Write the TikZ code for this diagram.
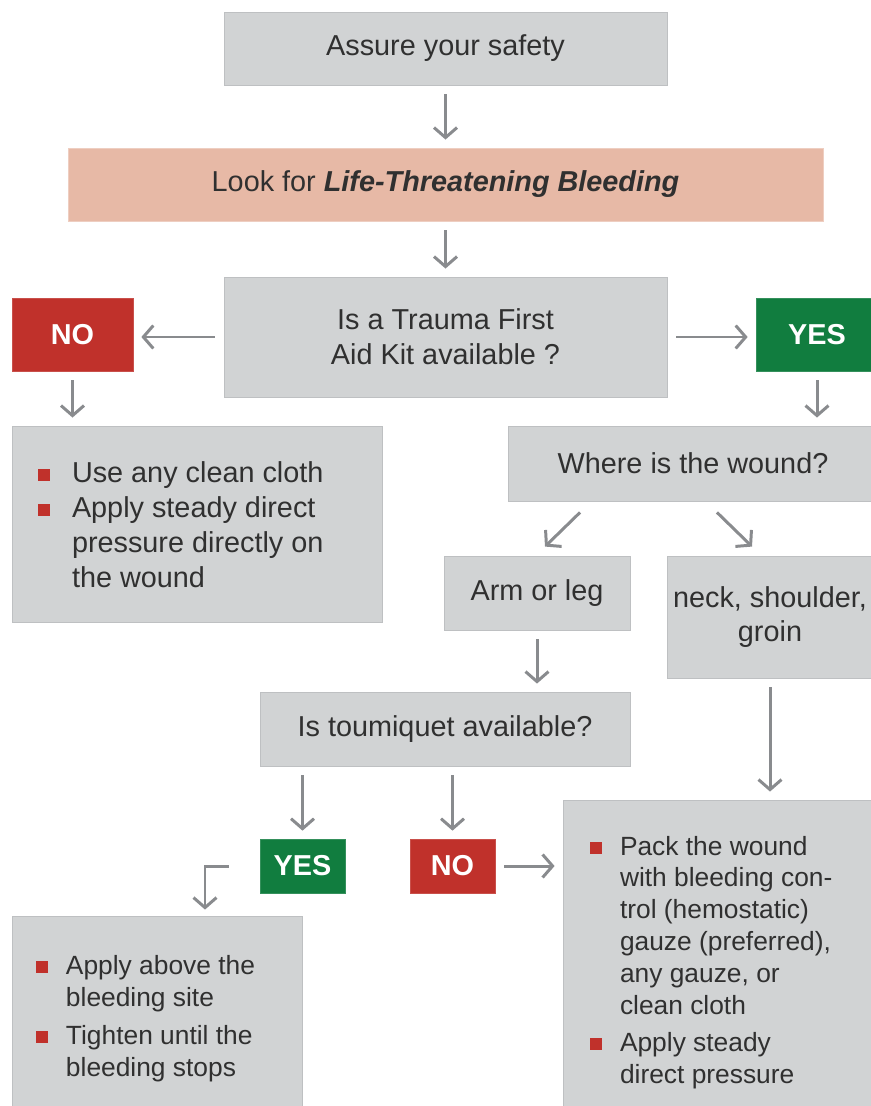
\documentclass[tikz,border=0pt]{standalone}
\usepackage{fontspec}
\setmainfont{Liberation Sans}
\usepackage{xcolor}
\usepackage{tikz}
\usetikzlibrary{arrows.meta, calc}
\definecolor{boxgray}{RGB}{209, 211, 212}
\definecolor{boxedge}{RGB}{190, 192, 194}
\definecolor{salmon}{RGB}{231, 185, 166}
\definecolor{nored}{RGB}{192, 49, 43}
\definecolor{yesgreen}{RGB}{17, 125, 63}
\definecolor{arrowgray}{RGB}{137, 139, 142}
\definecolor{textgray}{RGB}{48, 48, 48}

% red square bullet, one row of a list
\newcommand{\redsq}{\textcolor{nored}{\rule{0.24cm}{0.24cm}}}
\newcommand{\litem}[1]{\raisebox{0.03cm}{\redsq} & #1}

\tikzset{
  box/.style={fill=boxgray, draw=boxedge, line width=0.5pt, text=textgray,
    align=center, inner sep=0pt,
    font=\fontsize{16.4}{19.8}\selectfont},
  hilite/.style={box, fill=salmon, draw=salmon!70!white},
  nobox/.style={fill=nored, draw=nored!85!white, text=white, inner sep=0pt,
    font=\fontsize{16.4}{19.8}\selectfont\bfseries},
  yesbox/.style={nobox, fill=yesgreen, draw=yesgreen!85!white},
  listbox/.style={box, align=left, font=\fontsize{15}{18.1}\selectfont},
  flow/.style={draw=arrowgray, line width=1.7pt,
    -{Straight Barb[length=0.2cm, width=0.46cm]},
    shorten <=0.18cm, shorten >=0.16cm}
}

\begin{document}
\begin{tikzpicture}
  \useasboundingbox (0,0) rectangle (17.4,-22.12);

  % top of the chart
  \node[box, minimum width=8.86cm, minimum height=1.46cm] (safety) at (8.91,-0.97) {Assure your safety};
  \node[hilite, minimum width=15.1cm, minimum height=1.46cm] (look) at (8.91,-3.69)
    {Look for \textbf{\textit{Life-Threatening Bleeding}}};
  \node[box, minimum width=8.86cm, minimum height=2.4cm] (kit) at (8.91,-6.74)
    {Is a Trauma First\\Aid Kit available ?};
  \node[nobox, minimum width=2.42cm, minimum height=1.46cm] (no1) at (1.45,-6.69) {NO};
  \node[yesbox, minimum width=2.44cm, minimum height=1.46cm] (yes1) at (16.34,-6.69) {YES};

  % no kit
  \node[listbox, font=\fontsize{16.4}{19.8}\selectfont, minimum width=7.4cm, minimum height=3.92cm] (cloth) at (3.94,-10.48)
    {\raisebox{0pt}[\height][\dimexpr\depth-0.16cm\relax]{%
     \begin{tabular}{@{}p{0.68cm}@{}p{5.68cm}@{}}
     \litem{Use any clean cloth}\\
     \litem{Apply steady direct\newline pressure directly on\newline the wound}
     \end{tabular}}};

  % kit available
  \node[box, minimum width=7.4cm, minimum height=1.5cm] (where) at (13.86,-9.27) {Where is the wound?};
  \node[box, minimum width=3.72cm, minimum height=1.48cm] (arm) at (10.74,-11.86) {Arm or leg};
  \node[box, minimum width=4.12cm, minimum height=2.44cm] (neck) at (15.4,-12.34) {neck, shoulder,\\groin};
  \node[box, minimum width=7.4cm, minimum height=1.48cm] (tq) at (8.9,-14.58) {Is toumiquet available?};
  \node[yesbox, minimum width=1.7cm, minimum height=1.08cm] (yes2) at (6.05,-17.32) {YES};
  \node[nobox, minimum width=1.7cm, minimum height=1.08cm] (no2) at (9.05,-17.32) {NO};

  \node[listbox, minimum width=5.8cm, minimum height=4.12cm] (site) at (3.14,-20.38)
    {\begin{tabular}{@{}p{0.6cm}@{}p{4.24cm}@{}}
     \litem{Apply above the\newline bleeding site}\\[0.12cm]
     \litem{Tighten until the\newline bleeding stops}
     \end{tabular}};
  \node[listbox, minimum width=6.34cm, minimum height=6.52cm] (pack) at (14.43,-19.26)
    {\begin{tabular}{@{}p{0.6cm}@{}p{4.66cm}@{}}
     \litem{Pack the wound\newline with bleeding con-\newline trol (hemostatic)\newline gauze (preferred),\newline any gauze, or\newline clean cloth}\\[0.12cm]
     \litem{Apply steady\newline direct pressure}
     \end{tabular}};

  % connectors
  \draw[flow] (safety) -- (look);
  \draw[flow] (look) -- (kit);
  \draw[flow] (kit.west) -- (kit.west -| no1.east);
  \draw[flow] (kit.east) -- (kit.east -| yes1.west);
  \draw[flow] (no1) -- (no1 |- cloth.north);
  \draw[flow] (yes1) -- (yes1 |- where.north);
  \draw[flow, shorten <=0pt, shorten >=0pt] ([shift={(-2.26,-0.22)}]where.south) -- ([shift={(0.16,0.18)}]arm.north);
  \draw[flow, shorten <=0pt, shorten >=0pt] ([shift={(0.48,-0.22)}]where.south) -- ([shift={(-0.36,0.18)}]neck.north);
  \draw[flow] (arm) -- (arm |- tq.north);
  \draw[flow] (neck) -- (neck |- pack.north);
  \draw[flow] (yes2 |- tq.south) -- (yes2);
  \draw[flow] (no2 |- tq.south) -- (no2);
  \draw[flow] (no2) -- (no2 -| pack.west);
  \draw[flow, shorten <=0pt, shorten >=0.12cm] ([xshift=-0.62cm]yes2.west) -| ([xshift=0.96cm]site.north);
\end{tikzpicture}
\end{document}
